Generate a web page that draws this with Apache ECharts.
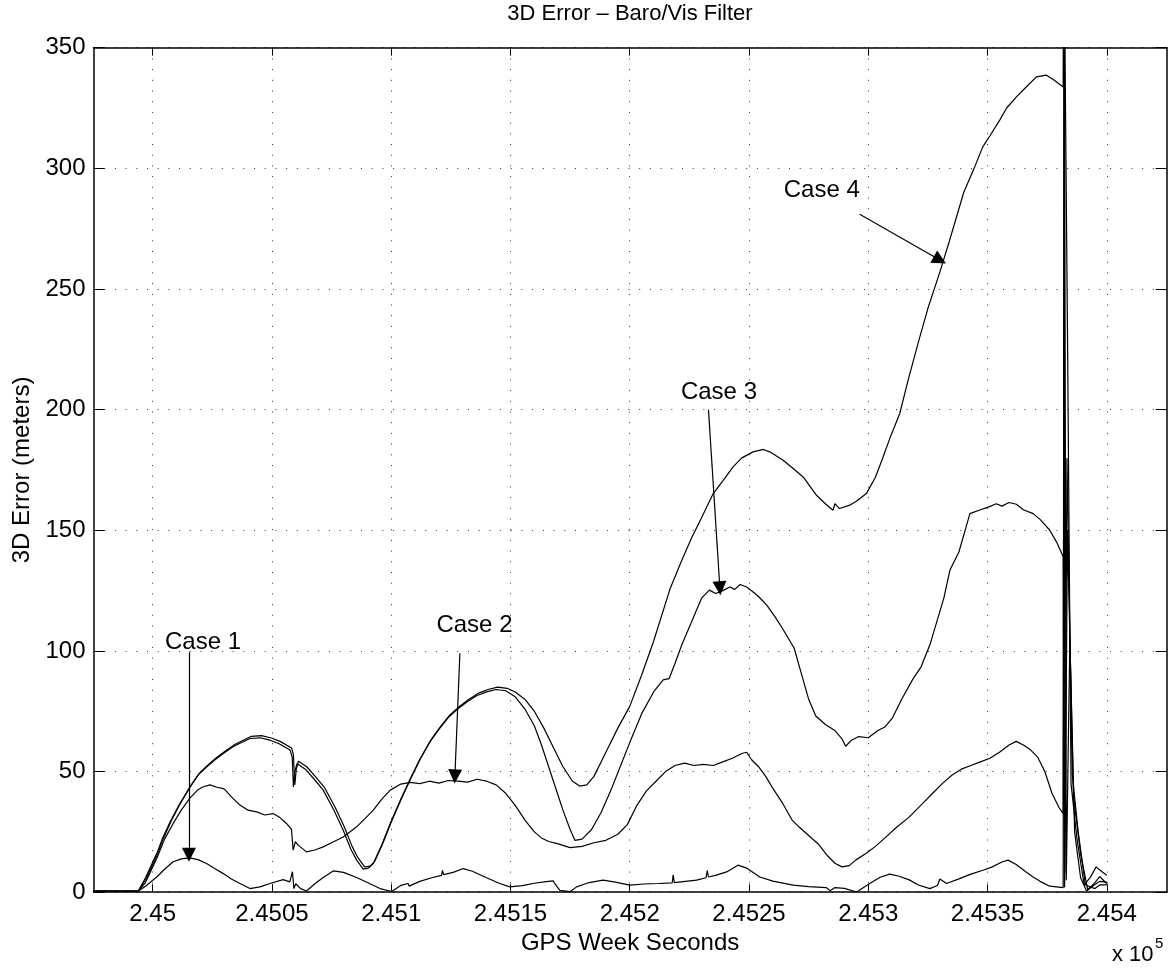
<!DOCTYPE html>
<html><head><meta charset="utf-8">
<script src="https://cdn.jsdelivr.net/npm/echarts@6/dist/echarts.min.js"></script>
<style>html,body{margin:0;padding:0;background:#fff}#c{width:1175px;height:973px}</style>
</head><body><div id="c"></div>
<script>
// ---- data (time in GPS week seconds, value in meters) ----
const xTicks = [245000,245050,245100,245150,245200,245250,245300,245350,245400];
const yTicks = [0,50,100,150,200,250,300,350];

const case1 = [[244975,0.5],[244985,0.4],[244994,0.5],[244997,2.5],[245001.7,6.3],[245005,9.5],[245008.6,12.6],[245012,13.8],[245015.6,14.2],[245019,13.5],[245022.6,11.9],[245026,9.8],[245029.6,7.7],[245033,5.5],[245036.6,3.6],[245040.8,1.5],[245045,2.2],[245049.2,3.6],[245054.7,5.2],[245057.5,4.3],[245058.6,8.5],[245059.2,1.5],[245060,3.5],[245062,1.5],[245064.5,0.5],[245068,3.5],[245071.5,6.1],[245075.7,8.8],[245080,8.2],[245085.5,6.1],[245090,4],[245095.3,1.5],[245100.2,0.3],[245104,2.8],[245107.1,3.6],[245107.5,2.5],[245112,4.5],[245117,6],[245121.1,7],[245121.5,9],[245122,7.3],[245126,8.2],[245130.2,9.8],[245134,8.7],[245140,6],[245145,3.8],[245149.7,2.2],[245155,2.7],[245160,3.7],[245165,4.4],[245167.9,4.7],[245169,3],[245170.7,0.8],[245175,0.2],[245177.7,2.2],[245183,4],[245188.8,5],[245194,4.2],[245200,2.9],[245206,3.4],[245212,3.6],[245217.8,3.9],[245218.2,7.2],[245218.7,4],[245228,5],[245232,6],[245232.5,9],[245233,6.3],[245236,7],[245240.6,8.4],[245245.4,11.2],[245249,10],[245254.5,6.3],[245260,4.6],[245268.5,2.9],[245275,2.3],[245282.5,1.9],[245284,0.6],[245286,1.9],[245290,1.6],[245295.1,0.1],[245300.6,3.6],[245305,6.2],[245309,7.5],[245313,6.6],[245317.4,5],[245321,3],[245325.8,1.5],[245329,2.8],[245330,5.5],[245332.8,3.6],[245338,5.5],[245343,7.5],[245348.1,9.1],[245352,10.5],[245356,12.5],[245358.6,13.3],[245362,11.5],[245366,8.5],[245369.1,6.3],[245372,4.5],[245376.1,2.5],[245381.7,1.9],[245382.1,420],[245383.0,5],[245384.5,105],[245386.5,25],[245389,6],[245391.5,0.5],[245394,2.5],[245397,4.5],[245400,4.2]];

const case2 = [[244975,0.5],[244994,0.5],[244997,4],[245001.7,14],[245005,22],[245008.6,28.5],[245012,34],[245015.6,39],[245019,42.5],[245021,43.6],[245024,44.5],[245027,43.5],[245030,42.8],[245033,39.5],[245036.6,36.1],[245040,34],[245043.6,33.3],[245047,32],[245050.5,32.6],[245053,31.2],[245056.1,28.5],[245058.2,26],[245058.9,17.4],[245059.8,21],[245061,19.5],[245064.5,16.7],[245068,17.5],[245071.5,18.8],[245075,20.5],[245079.9,22.9],[245085.5,27.1],[245089,30.5],[245092.5,34],[245096,38.5],[245099.6,42.3],[245104,44.8],[245108,45.5],[245112,45],[245116,46],[245120,45.2],[245124,46.3],[245128,46],[245132,45.6],[245136,46.8],[245140,46],[245144,44.5],[245148,41],[245152,36],[245156,30],[245160,25],[245163,22.5],[245166,21],[245170,20],[245175,18.5],[245180,19],[245185,20.5],[245190,21.5],[245195,24],[245199,28],[245203,36],[245207,42],[245211,46],[245215,50],[245219,52.5],[245223,53.5],[245227,52.5],[245231,53],[245235,52.5],[245239,54],[245243,55.5],[245247,57.5],[245249,58],[245251,55],[245254,52],[245257,48],[245260,43],[245264,37],[245268,30],[245271,27],[245275,23.5],[245279,20],[245283,15],[245286,12],[245289,10.5],[245292,11],[245295,13.5],[245299,16],[245303,19],[245307,22.5],[245312,27],[245317,31],[245322,36],[245327,41],[245331,45],[245335,48.5],[245339,51],[245343,52.5],[245347,54],[245351,55.5],[245355,58],[245359,61],[245362,62.5],[245365,61],[245368,59],[245371,56],[245374,50],[245377,41],[245380,35],[245381.7,32.6],[245382.2,380],[245383.6,221],[245385.0,45],[245387.5,22],[245390.5,3],[245393,6],[245395.5,10.5],[245398,8.5],[245400,7]];

const case3 = [[244975,0.5],[244994,0.5],[244997,6],[245001.7,16],[245004,22],[245007.3,29.1],[245011,36],[245015.6,43.6],[245019,48.5],[245022.6,51.9],[245026,54.8],[245029.6,57.5],[245034,60.5],[245040.8,63.7],[245045,64],[245049.2,63],[245053,61.5],[245057.6,58.9],[245058.5,56],[245059.0,43.6],[245059.6,50],[245060.5,53.3],[245064,51],[245068,46.5],[245071.5,42.3],[245076,34],[245079.9,25.7],[245083,18],[245085.5,13.3],[245088.3,9.6],[245090.5,10],[245092.5,11.9],[245096,19.5],[245099.6,28.5],[245104,38.5],[245108,47],[245112,55],[245116,62],[245120,67.5],[245124,72.5],[245128,76],[245132,79],[245136,81.5],[245140,83],[245144,84],[245148,83.5],[245152,81],[245156,76],[245160,69],[245163,61],[245166,52],[245169,43],[245172,34],[245175,26],[245177,21.5],[245180,22],[245184,26],[245188,33],[245192,42],[245196,52],[245200,62],[245205,74],[245210,83],[245214,88],[245216.5,88.5],[245219,94.9],[245222,103],[245225.4,110.8],[245228,117],[245230.2,122],[245233.4,125.2],[245236,123.8],[245239,125],[245242,126.5],[245244,125.5],[245246.3,127.5],[245249,126.5],[245252.8,123.6],[245255,121.5],[245257.6,118.8],[245261,114],[245264.1,109.2],[245268.9,101.2],[245272.1,90.1],[245275,80],[245278,73],[245282,69.5],[245286,67],[245289,63.5],[245290.5,60.5],[245293,63],[245296,64.5],[245300,64],[245304,67],[245307,68.5],[245310,72],[245314,80],[245318.8,88.5],[245322.1,93.3],[245326,103],[245331.7,122],[245334.2,133.4],[245338,141],[245342.6,156.9],[245347,158.5],[245350,159.5],[245353.7,161],[245356,160],[245359,161.5],[245362.1,160.8],[245365,158.5],[245369.1,156.9],[245372,154.5],[245376.1,150],[245379,145],[245381.7,139],[245382.3,2],[245383.3,180],[245385.5,49],[245388,25],[245391,3],[245395,1.5],[245397,3],[245400,3]];

const case4 = [[244975,0.5],[244994,0.5],[244997.5,6],[245002.3,16.5],[245004.6,22.5],[245007.9,29.8],[245011.6,36.8],[245016.2,44.4],[245019.6,49.3],[245023.2,52.7],[245026.6,55.6],[245030.2,58.3],[245034.6,61.3],[245041.4,64.6],[245045.6,64.9],[245049.8,63.9],[245053.6,62.4],[245058.2,59.8],[245059.0,57],[245059.6,44.5],[245060.2,51],[245061.1,54.3],[245064.6,52],[245068.6,47.5],[245072.1,43.3],[245076.6,35],[245080.5,26.7],[245083.6,19],[245086.1,14.2],[245088.9,10.5],[245091.1,10.8],[245093.1,12.8],[245096.6,20.5],[245100.2,29.5],[245104.6,39.5],[245108.6,48],[245112.6,56],[245116.6,63],[245120.6,68.5],[245124.6,73.5],[245128.6,77],[245132.6,80],[245136.6,82.5],[245140.6,84],[245144.6,85],[245148.6,84.5],[245152,83],[245156,80],[245160,75],[245164,68],[245168,60],[245172,52],[245176,46],[245179,44],[245182,44.5],[245185,48],[245190,58],[245195,68],[245200,77],[245205,90],[245210,104],[245217,126],[245222,138],[245226,147],[245230,155],[245235,165.2],[245239.2,170.7],[245243.3,176.3],[245247,180],[245251.7,182.5],[245256,183.5],[245258.7,182.5],[245264.3,179],[245268,176],[245272.7,172.1],[245278.3,164.5],[245282,161],[245285.2,158.3],[245286,161],[245288,159],[245292.2,160.4],[245295,162],[245299.2,165.2],[245303,172],[245306.2,180.4],[245309,188],[245313.2,198.4],[245316.7,212.2],[245321,228],[245325,242],[245330,257],[245334.1,270.2],[245340,290],[245344.6,300.6],[245348,308.9],[245351,313.5],[245355.1,320],[245358,325],[245362.1,329.6],[245366,333.5],[245370.5,337.9],[245374.7,338.6],[245378,336.5],[245381.7,333.7],[245382.0,450],[245382.4,8],[245383.5,150],[245386,40],[245389,16],[245392,1],[245395,4],[245397,6.5],[245400,3.5]];

// annotation labels [t, v] and arrows [from, to]
const caseLabels = [
  {name:'Case 1', value:[245021.1,103.6]},
  {name:'Case 2', value:[245134.9,110.7]},
  {name:'Case 3', value:[245237.4,207]},
  {name:'Case 4', value:[245280.5,291]}
];
const caseArrows = [
  [[245015.2,99.5],[245015.2,15.5]],
  [[245128.8,99],[245126.7,48]],
  [[245233.0,200],[245237.8,126]],
  [[245296.4,281],[245330,262]]
];

const FONT = '"Liberation Sans", Arial, Helvetica, sans-serif';
const X_MIN = 244975.2, X_MAX = 245425.1;

const chart = echarts.init(document.getElementById('c'), null, {renderer:'canvas'});
const grid = {left:93.5, top:47.7, width:1073.2, height:844.5};
const dotted = {color:'#333', width:1, type:[1,9.7]};

function lineSeries(name, data){
  return {name, type:'line', data, showSymbol:false, symbol:'none', sampling:null,
    lineStyle:{color:'#000', width:1.2}, itemStyle:{color:'#000'}, clip:true, z:3, silent:true};
}

chart.setOption({
  animation:false,
  backgroundColor:'#fff',
  textStyle:{fontFamily:FONT},
  grid,
  graphic:[
    {type:'text', x:630, y:14, style:{text:'3D Error \u2013 Baro/Vis Filter', font:'22px '+FONT, fill:'#000', textAlign:'center', textVerticalAlign:'middle'}},
    {type:'text', x:1112, y:955, style:{text:'x 10', font:'22px '+FONT, fill:'#000', textAlign:'left', textVerticalAlign:'middle'}},
    {type:'text', x:1155, y:944, style:{text:'5', font:'15px '+FONT, fill:'#000', textAlign:'left', textVerticalAlign:'middle'}}
  ],
  xAxis:[{
    type:'value', position:'bottom', min:X_MIN, max:X_MAX,
    name:'GPS Week Seconds', nameLocation:'middle', nameGap:36,
    nameTextStyle:{fontSize:24, color:'#000', fontFamily:FONT},
    axisLine:{show:true, onZero:false, lineStyle:{color:'#000', width:1.5}},
    axisTick:{show:true, inside:true, length:8, customValues:xTicks, lineStyle:{color:'#000', width:1}},
    axisLabel:{show:true, customValues:xTicks, margin:10, fontSize:24, color:'#000', fontFamily:FONT,
      formatter:v=>String(parseFloat((v/1e5).toFixed(5)))},
    splitLine:{show:true, lineStyle:dotted}
  },{
    type:'value', position:'top', min:X_MIN, max:X_MAX,
    axisLine:{show:true, onZero:false, lineStyle:{color:'#000', width:1.5}},
    axisTick:{show:true, inside:true, length:8, customValues:xTicks, lineStyle:{color:'#000', width:1}},
    axisLabel:{show:false, customValues:xTicks},
    splitLine:{show:false}
  }],
  yAxis:[{
    type:'value', position:'left', min:0, max:350, interval:50,
    name:'3D Error (meters)', nameLocation:'middle', nameGap:58,
    nameTextStyle:{fontSize:24, color:'#000', fontFamily:FONT},
    axisLine:{show:true, onZero:false, lineStyle:{color:'#000', width:1.5}},
    axisTick:{show:true, inside:true, length:11, lineStyle:{color:'#000', width:1}},
    axisLabel:{show:true, margin:8, fontSize:24, color:'#000', fontFamily:FONT},
    splitLine:{show:true, lineStyle:dotted}
  },{
    type:'value', position:'right', min:0, max:350, interval:50,
    axisLine:{show:true, onZero:false, lineStyle:{color:'#000', width:1.5}},
    axisTick:{show:true, inside:true, length:11, lineStyle:{color:'#000', width:1}},
    axisLabel:{show:false},
    splitLine:{show:false}
  }],
  series:[
    lineSeries('Case 1', case1),
    lineSeries('Case 2', case2),
    lineSeries('Case 3', case3),
    lineSeries('Case 4', case4),
    {type:'line', data:caseLabels, silent:true, z:5, showSymbol:true, symbol:'circle', symbolSize:1,
      lineStyle:{opacity:0, width:0}, itemStyle:{color:'#fff', opacity:1, borderWidth:0},
      label:{show:true, position:'inside', formatter:p=>p.name, fontSize:24, color:'#000',
        opacity:1, textBorderWidth:0, fontFamily:FONT}},
    {type:'line', data:[], silent:true, z:6,
      markLine:{silent:true, animation:false, symbol:['none','triangle'], symbolSize:14,
        lineStyle:{color:'#000', width:1.2, type:'solid', opacity:1}, itemStyle:{color:'#000'},
        label:{show:false}, emphasis:{disabled:true},
        data:caseArrows.map(a=>[{coord:a[0]},{coord:a[1]}])}
    }
  ]
});
</script></body></html>
